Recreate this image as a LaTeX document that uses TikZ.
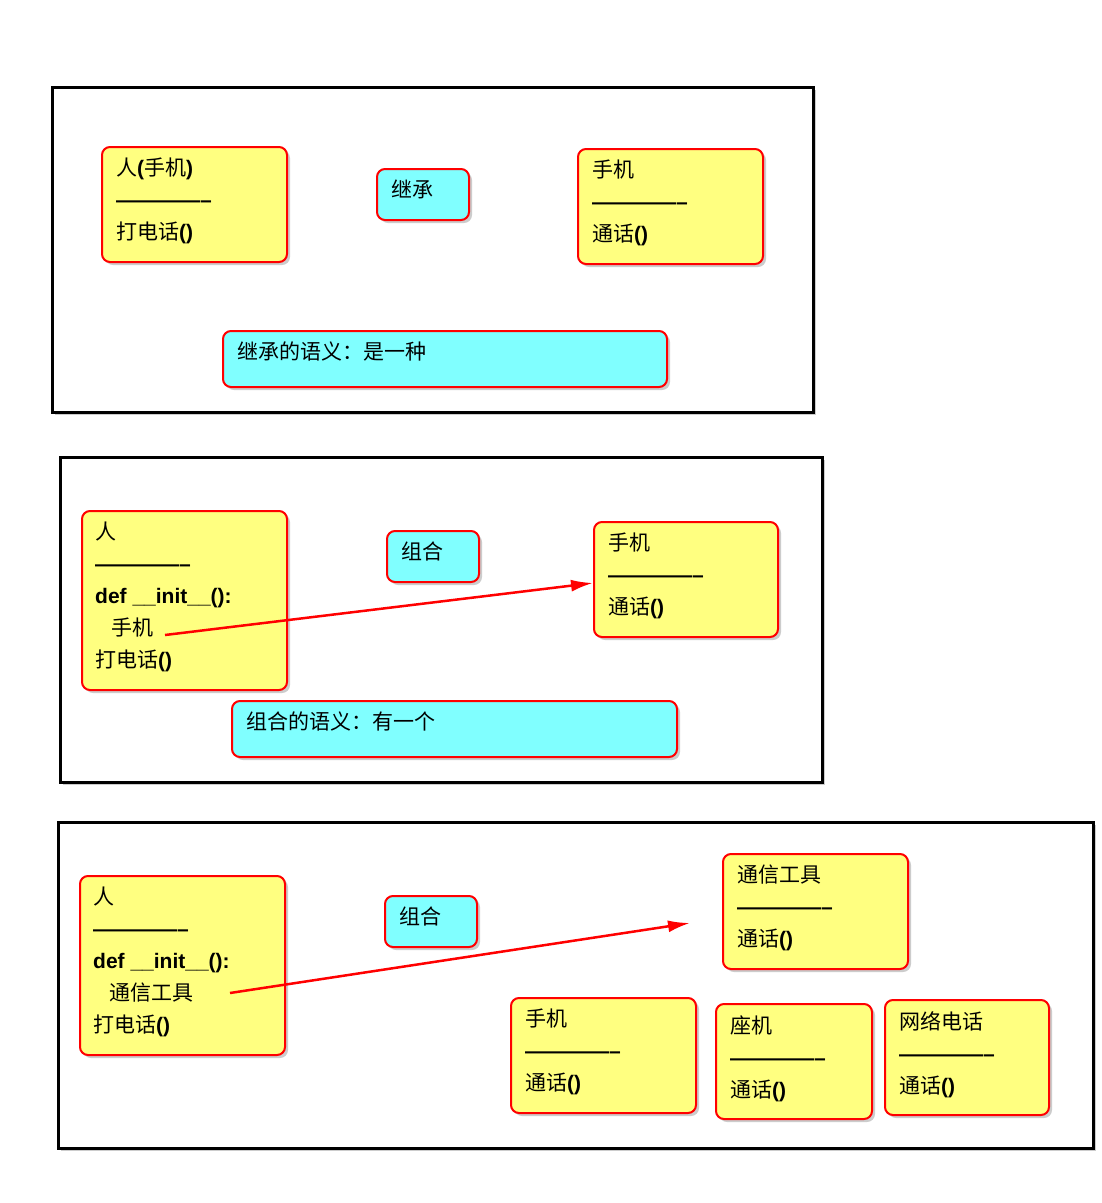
\documentclass[tikz,border=0pt]{standalone}
\usepackage{fontspec}
\setmainfont{Liberation Sans}
\newfontfamily\cjk{Noto Sans CJK SC}
\usetikzlibrary{shadows}
\newcommand{\zh}[1]{{\cjk #1}}
\definecolor{ybox}{HTML}{FFFF80}
\definecolor{cbox}{HTML}{80FFFF}
\tikzset{
 frame/.style={draw=black,line width=3pt,fill=white,drop shadow={shadow xshift=3pt,shadow yshift=-3pt,opacity=0.4}},
 ybx/.style={draw=red,line width=2pt,fill=ybox,rounded corners=8pt,drop shadow={shadow xshift=3pt,shadow yshift=-3pt,opacity=0.4}},
 cbx/.style={draw=red,line width=2pt,fill=cbox,rounded corners=8pt,drop shadow={shadow xshift=3pt,shadow yshift=-3pt,opacity=0.4}},
 txt/.style={anchor=north west,align=left,inner sep=0pt,font=\fontsize{21}{32}\selectfont},
 arr/.style={draw=red,line width=2.5pt,-{Latex[length=22pt,width=12pt]}}
}
\usetikzlibrary{arrows.meta}
\begin{document}
\begin{tikzpicture}[x=1pt,y=-1pt]
\useasboundingbox (0,0) rectangle (1102,1203);
% frames
\draw[frame] (52,87) rectangle (813,412);
\draw[frame] (60,457) rectangle (822,782);
\draw[frame] (58,822) rectangle (1093,1148);
% section 1
\draw[ybx] (102,147) rectangle (287,262);
\node[txt] (a1) at (116,158) {\zh{人}\textbf{(}\zh{手机}\textbf{)}\\\textbf{--------------}\\\zh{打电话}\textbf{()}};
\draw[cbx] (377,169) rectangle (469,220);
\node[txt] (a2) at (391,180) {\zh{继承}};
\draw[ybx] (578,149) rectangle (763,264);
\node[txt] (a3) at (592,160) {\zh{手机}\\\textbf{--------------}\\\zh{通话}\textbf{()}};
\draw[cbx] (223,331) rectangle (667,387);
\node[txt] (a4) at (237,342) {\zh{继承的语义：是一种}};
% section 2
\draw[ybx] (82,511) rectangle (287,690);
\node[txt] (b1) at (95,522) {\zh{人}\\\textbf{--------------}\\\textbf{def \_\_init\_\_():}\\\hspace*{16pt}\zh{手机}\\\zh{打电话}\textbf{()}};
\draw[cbx] (387,531) rectangle (479,582);
\node[txt] (b2) at (401,542) {\zh{组合}};
\draw[ybx] (594,522) rectangle (778,637);
\node[txt] (b3) at (608,533) {\zh{手机}\\\textbf{--------------}\\\zh{通话}\textbf{()}};
\draw[cbx] (232,701) rectangle (677,757);
\node[txt] (b4) at (246,712) {\zh{组合的语义：有一个}};
\coordinate (bs) at (165,635);
\coordinate (be) at (593,583);
\draw[arr] (bs) -- (be);
% section 3
\draw[ybx] (80,876) rectangle (285,1055);
\node[txt] (c1) at (93,887) {\zh{人}\\\textbf{--------------}\\\textbf{def \_\_init\_\_():}\\\hspace*{16pt}\zh{通信工具}\\\zh{打电话}\textbf{()}};
\draw[cbx] (385,896) rectangle (477,947);
\node[txt] (c2) at (399,907) {\zh{组合}};
\draw[ybx] (723,854) rectangle (908,969);
\node[txt] (c3) at (737,865) {\zh{通信工具}\\\textbf{--------------}\\\zh{通话}\textbf{()}};
\draw[ybx] (511,998) rectangle (696,1113);
\node[txt] (c4) at (525,1009) {\zh{手机}\\\textbf{--------------}\\\zh{通话}\textbf{()}};
\draw[ybx] (716,1004) rectangle (872,1119);
\node[txt] (c5) at (730,1015) {\zh{座机}\\\textbf{--------------}\\\zh{通话}\textbf{()}};
\draw[ybx] (885,1000) rectangle (1049,1115);
\node[txt] (c6) at (899,1011) {\zh{网络电话}\\\textbf{--------------}\\\zh{通话}\textbf{()}};
\coordinate (cs) at (230,993);
\coordinate (ce) at (690,923);
\draw[arr] (cs) -- (ce);
\end{tikzpicture}
\end{document}
